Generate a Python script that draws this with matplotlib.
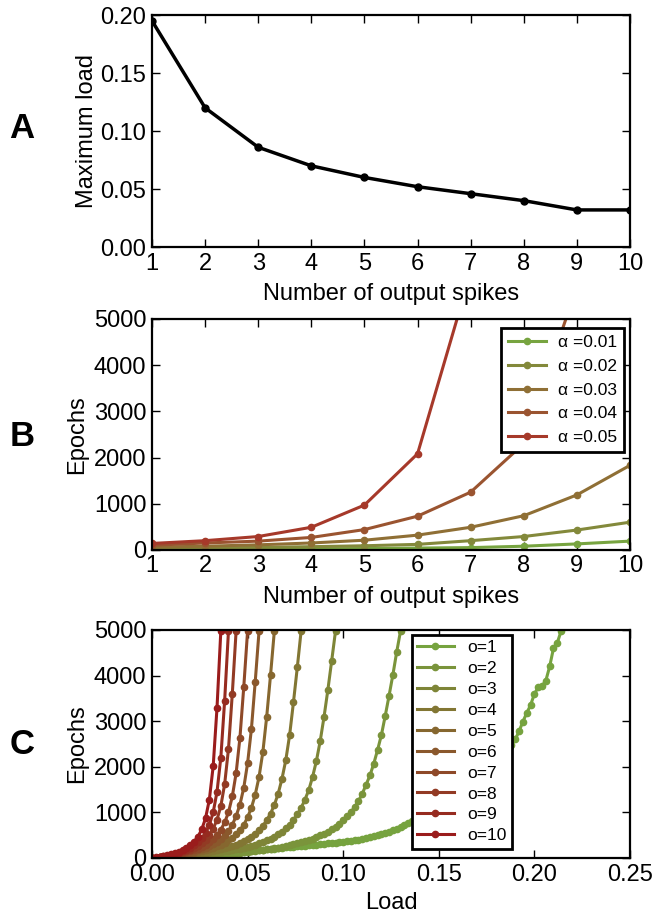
import numpy as np
import matplotlib
matplotlib.use('Agg')
import matplotlib.pyplot as plt

plt.rcParams['font.family'] = ['Liberation Sans', 'DejaVu Sans']

# panel A: maximum load per number of output spikes
spikes = [1, 2, 3, 4, 5, 6, 7, 8, 9, 10]
max_load = [0.195, 0.120, 0.086, 0.070, 0.060, 0.052, 0.046, 0.040, 0.032, 0.032]

# panel B: epochs vs number of output spikes, one series per alpha
alpha_labels = ['α =0.01', 'α =0.02', 'α =0.03', 'α =0.04', 'α =0.05']
epochs_a01 = [10, 15, 20, 25, 30, 40, 50, 80, 130, 190]
epochs_a02 = [30, 40, 55, 70, 90, 120, 200, 290, 430, 600]
epochs_a03 = [60, 80, 110, 150, 210, 320, 490, 740, 1190, 1830]
epochs_a04 = [100, 150, 190, 270, 440, 730, 1250, 2300, 5700, 14000]
epochs_a05 = [140, 200, 290, 490, 970, 2080, 6000, 20000, 60000, 150000]

# panel C: epochs vs load, one series per number of output spikes
loads = np.arange(108) * 0.002
o_labels = ['o=1', 'o=2', 'o=3', 'o=4', 'o=5', 'o=6', 'o=7', 'o=8', 'o=9', 'o=10']
ep_o1 = [0, 2, 4, 6, 9, 12, 16, 20, 25, 30, 35, 41, 47, 53, 59, 65, 72, 79, 86, 93,
         100, 110, 120, 130, 140, 150, 158, 166, 174, 182, 190, 199, 208, 217, 226, 235,
         242, 249, 256, 263, 270, 278, 286, 294, 302, 310, 319, 328, 337, 346, 355,
         366, 378, 391, 405, 420, 437, 456, 476, 497, 520, 546, 574, 605, 640, 680,
         725, 775, 815, 850, 880, 915, 950, 985, 1020, 1060, 1105, 1150, 1195, 1240,
         1290, 1350, 1410, 1470, 1535, 1600, 1680, 1765, 1850, 1940, 2030, 2140, 2250,
         2370, 2480, 2600, 2780, 2990, 3180, 3350, 3600, 3740, 3770, 3890, 4200, 4600,
         4720, 4980]
ep_o2 = [0, 3, 6, 9, 12, 15, 18, 22, 27, 31, 36, 41, 45, 50, 56, 62, 68, 75, 81, 87,
         94, 102, 109, 117, 126, 136, 145, 156, 167, 177, 190, 202, 214, 229, 245, 262,
         280, 300, 321, 340, 367, 396, 423, 460, 495, 531, 578, 630, 683, 746, 830, 917,
         1000, 1120, 1250, 1410, 1610, 1810, 2070, 2370, 2700, 3120, 3560, 4020, 4520,
         4980]
ep_o3 = [0, 4, 8, 12, 17, 21, 28, 34, 40, 46, 53, 62, 70, 78, 87, 96, 107, 117, 130,
         143, 157, 171, 187, 203, 220, 243, 266, 291, 318, 347, 385, 422, 470, 520, 579,
         650, 725, 840, 955, 1100, 1280, 1490, 1780, 2130, 2570, 3100, 3690, 4330, 4980]
ep_o4 = [0, 5, 10, 15, 21, 28, 36, 44, 52, 62, 72, 83, 94, 107, 120, 136, 152, 170,
         190, 210, 234, 262, 293, 327, 367, 414, 470, 531, 612, 704, 830, 972, 1165,
         1410, 1740, 2150, 2700, 3420, 4180, 4980]
ep_o5 = [0, 6, 12, 19, 28, 37, 46, 58, 70, 83, 96, 112, 130, 149, 171, 195, 220, 254,
         291, 332, 385, 445, 520, 615, 725, 895, 1100, 1390, 1780, 2330, 3100, 4010, 4980]
ep_o6 = [0, 7, 14, 22, 33, 44, 56, 70, 84, 101, 119, 141, 165, 191, 220, 259, 303,
         353, 417, 500, 600, 725, 920, 1170, 1540, 2080, 2830, 3870, 4980]
ep_o7 = [0, 8, 16, 26, 38, 50, 66, 82, 100, 121, 145, 173, 204, 242, 288, 340, 412,
         502, 620, 780, 1000, 1350, 1860, 2640, 3750, 4980]
ep_o8 = [0, 9, 18, 31, 45, 61, 79, 99, 123, 151, 184, 220, 270, 328, 405, 505, 640,
         840, 1140, 1620, 2390, 3600, 4980]
ep_o9 = [0, 10, 20, 35, 50, 70, 90, 115, 145, 180, 220, 275, 340, 430, 550, 725, 1000,
         1450, 2200, 3450, 4980]
ep_o10 = [0, 11, 23, 40, 59, 81, 107, 138, 176, 220, 283, 360, 465, 625, 870, 1280,
          2010, 3290, 4980]


def blend(c0, c1, n):
    c0 = np.array(matplotlib.colors.to_rgb(c0))
    c1 = np.array(matplotlib.colors.to_rgb(c1))
    return [tuple(c0 + (c1 - c0) * i / (n - 1)) for i in range(n)]


def style(ax):
    for s in ax.spines.values():
        s.set_linewidth(1.6)
    ax.tick_params(direction='in', top=True, right=True, length=6, width=1,
                   labelsize=17, pad=4)


fig = plt.figure(figsize=(6.6, 9.15), dpi=100)
axA = fig.add_axes([0.2303, 0.730, 0.7242, 0.2536])
axB = fig.add_axes([0.2303, 0.399, 0.7242, 0.2525])
axC = fig.add_axes([0.2303, 0.0623, 0.7242, 0.2492])

# A
axA.plot(spikes, max_load, 'k-', lw=2.5, marker='o', ms=5)
axA.set_xlim(1, 10)
axA.set_ylim(0, 0.2)
axA.set_xticks(spikes)
axA.set_yticks([0, 0.05, 0.10, 0.15, 0.20])
axA.set_yticklabels(['0.00', '0.05', '0.10', '0.15', '0.20'])
axA.set_xlabel('Number of output spikes', fontsize=17, labelpad=6)
axA.set_ylabel('Maximum load', fontsize=17, labelpad=2)
style(axA)

# B
colsB = blend('#77a440', '#a6392a', 5)
for ys, lab, c in zip([epochs_a01, epochs_a02, epochs_a03, epochs_a04, epochs_a05],
                      alpha_labels, colsB):
    axB.plot(spikes, ys, '-', color=c, lw=2.2, marker='o', ms=4.5, label=lab)
axB.set_xlim(1, 10)
axB.set_ylim(0, 5000)
axB.set_xticks(spikes)
axB.set_yticks([0, 1000, 2000, 3000, 4000, 5000])
axB.set_xlabel('Number of output spikes', fontsize=17, labelpad=6)
axB.set_ylabel('Epochs', fontsize=17)
style(axB)
legB = axB.legend(loc='upper right', bbox_to_anchor=(0.987, 0.961), borderaxespad=0,
                  fontsize=12.5, fancybox=False, framealpha=1, edgecolor='k',
                  handlelength=2.2, labelspacing=0.5, borderpad=0.4,
                  handletextpad=0.65)
legB.get_frame().set_linewidth(2)

# C
colsC = blend('#76a33f', '#9a1c1c', 10)
seriesC = [ep_o1, ep_o2, ep_o3, ep_o4, ep_o5, ep_o6, ep_o7, ep_o8, ep_o9, ep_o10]
for ys, lab, c in zip(seriesC, o_labels, colsC):
    axC.plot(loads[:len(ys)], ys, '-', color=c, lw=2.2, marker='o', ms=4.5, label=lab)
axC.set_xlim(0, 0.25)
axC.set_ylim(0, 5000)
axC.set_xticks([0, 0.05, 0.10, 0.15, 0.20, 0.25])
axC.set_xticklabels(['0.00', '0.05', '0.10', '0.15', '0.20', '0.25'])
axC.set_yticks([0, 1000, 2000, 3000, 4000, 5000])
axC.set_xlabel('Load', fontsize=17, labelpad=5)
axC.set_ylabel('Epochs', fontsize=17)
style(axC)
legC = axC.legend(loc='upper left', bbox_to_anchor=(0.544, 0.978), borderaxespad=0,
                  fontsize=12.5, fancybox=False, framealpha=1, edgecolor='k',
                  handlelength=2.1, labelspacing=0.33, borderpad=0.3,
                  handletextpad=0.8)
legC.get_frame().set_linewidth(2)

for lab, y in [('A', 128), ('B', 437), ('C', 745)]:
    fig.text(22 / 660, 1 - y / 915, lab, fontsize=25, fontweight='bold',
             ha='center', va='center')

fig.savefig('out.png', dpi=100)
